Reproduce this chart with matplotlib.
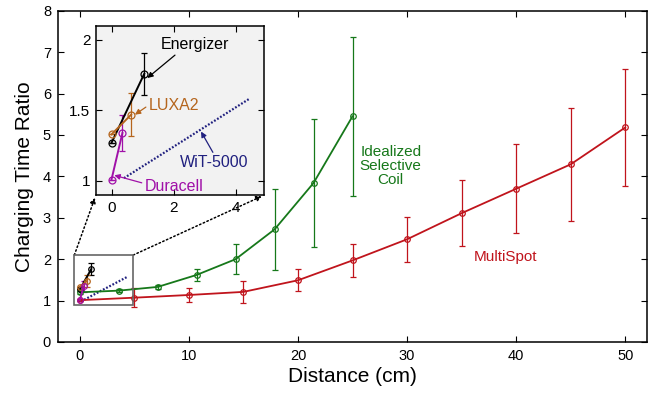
import numpy as np
import matplotlib
matplotlib.use("Agg")
import matplotlib.pyplot as plt
from matplotlib.patches import Rectangle

plt.rcParams['font.family'] = ['Liberation Sans', 'DejaVu Sans']

# idealized selective coil
coil_x = [0, 25/7, 50/7, 75/7, 100/7, 125/7, 150/7, 25]
coil_y = [1.2, 1.24, 1.33, 1.62, 2.0, 2.72, 3.84, 5.45]
coil_err = [0.03, 0.04, 0.05, 0.14, 0.36, 0.98, 1.55, 1.92]

# multispot
multi_x = [0, 5, 10, 15, 20, 25, 30, 35, 40, 45, 50]
multi_y = [1.01, 1.07, 1.135, 1.21, 1.49, 1.97, 2.48, 3.11, 3.70, 4.29, 5.18]
multi_err = [0.02, 0.23, 0.17, 0.27, 0.27, 0.39, 0.55, 0.80, 1.08, 1.37, 1.42]

# commercial chargers (inset)
ener_x = [0, 1.05]
ener_y = [1.27, 1.76]
ener_err = [0.0, 0.15]
luxa_x = [0, 0.63]
luxa_y = [1.33, 1.47]
luxa_err = [0.0, 0.15]
dura_x = [0, 0.35]
dura_y = [1.01, 1.34]
dura_err = [0.0, 0.125]
wit_x = [0.4, 4.4]
wit_y = [1.02, 1.58]

GREEN = '#16781a'
RED = '#c0141c'
BROWN = '#b5651d'
MAG = '#a010a8'
NAVY = '#20207f'

fig = plt.figure(figsize=(6.48, 4.03), dpi=100)
ax = fig.add_axes([0.0895, 0.1514, 0.909, 0.822])


def draw_chargers(a, ms):
    a.plot(wit_x, wit_y, color=NAVY, ls=(0, (0.8, 0.8)), lw=1.6)
    for xs, ys, es, c in [(ener_x, ener_y, ener_err, 'black'),
                          (luxa_x, luxa_y, luxa_err, BROWN),
                          (dura_x, dura_y, dura_err, MAG)]:
        a.errorbar(xs, ys, yerr=es, color=c, lw=1.4, elinewidth=0.9, capsize=2,
                   marker='o', ms=ms, mfc='none', mew=0.9)


ax.errorbar(coil_x, coil_y, yerr=coil_err, color=GREEN, lw=1.3, elinewidth=0.9,
            capsize=2, marker='o', ms=4, mfc='none', mew=0.9)
ax.errorbar(multi_x, multi_y, yerr=multi_err, color=RED, lw=1.3, elinewidth=0.9,
            capsize=2, marker='o', ms=4, mfc='none', mew=0.9)
draw_chargers(ax, 4)
ax.set_xlim(-2, 52)
ax.set_ylim(0, 8)
ax.set_xticks([0, 10, 20, 30, 40, 50])
ax.set_yticks(range(9))
ax.tick_params(direction='in', top=True, right=True, length=4, labelsize=10.5, pad=5)
for s in ax.spines.values():
    s.set_linewidth(1.1)
ax.set_xlabel('Distance (cm)', fontsize=15, labelpad=3)
ax.set_ylabel('Charging Time Ratio', fontsize=15, labelpad=6)

ax.text(28.5, 4.26, 'Idealized\nSelective\nCoil', color=GREEN, fontsize=11,
        ha='center', va='center', linespacing=1.0)
ax.text(39.0, 2.05, 'MultiSpot', color=RED, fontsize=11, ha='center', va='center')

x0, x1, y0, y1 = -0.5, 4.9, 0.9, 2.1
ax.add_patch(Rectangle((x0, y0), x1 - x0, y1 - y0, fill=False, ec='#666666', lw=1.2, zorder=5))

axin = fig.add_axes([0.148, 0.516, 0.26, 0.42])
axin.set_facecolor('#f2f2f2')
draw_chargers(axin, 5)
axin.set_xlim(x0, x1)
axin.set_ylim(y0, y1)
axin.set_xticks([0, 2, 4])
axin.set_yticks([1, 1.5, 2])
axin.set_yticklabels(['1', '1.5', '2'])
axin.tick_params(direction='in', top=True, right=True, length=4, labelsize=11, pad=4)
for s in axin.spines.values():
    s.set_linewidth(1.1)

# connectors from zoom box to inset
for (cx, ix) in [(x0, 0), (x1, 1)]:
    ax.annotate('', xy=(ix, 0), xycoords=axin.transAxes, xytext=(cx, y1),
                textcoords='data',
                arrowprops=dict(arrowstyle='-|>', ls=':', lw=1.1, color='black',
                                shrinkA=0, shrinkB=2, mutation_scale=8))

arr = dict(arrowstyle='-|>', lw=0.9, mutation_scale=8, shrinkA=0, shrinkB=0)
axin.annotate('Energizer', xy=(1.15, 1.73), xytext=(2.69, 1.965), fontsize=11.5,
              ha='center', va='center', color='black',
              arrowprops=dict(arr, color='black', relpos=(0.25, 0)))
axin.annotate('LUXA2', xy=(0.75, 1.47), xytext=(2.0, 1.537), fontsize=11.5,
              ha='center', va='center', color=BROWN,
              arrowprops=dict(arr, color=BROWN, relpos=(0, 0.5)))
axin.annotate('WiT-5000', xy=(2.87, 1.35), xytext=(3.3, 1.13), fontsize=11.5,
              ha='center', va='center', color=NAVY,
              arrowprops=dict(arr, color=NAVY, relpos=(0.5, 1)))
axin.annotate('Duracell', xy=(0.09, 1.04), xytext=(2.0, 0.96), fontsize=11.5,
              ha='center', va='center', color=MAG,
              arrowprops=dict(arr, color=MAG, relpos=(0, 0.7)))

fig.savefig('out.png', dpi=100)
